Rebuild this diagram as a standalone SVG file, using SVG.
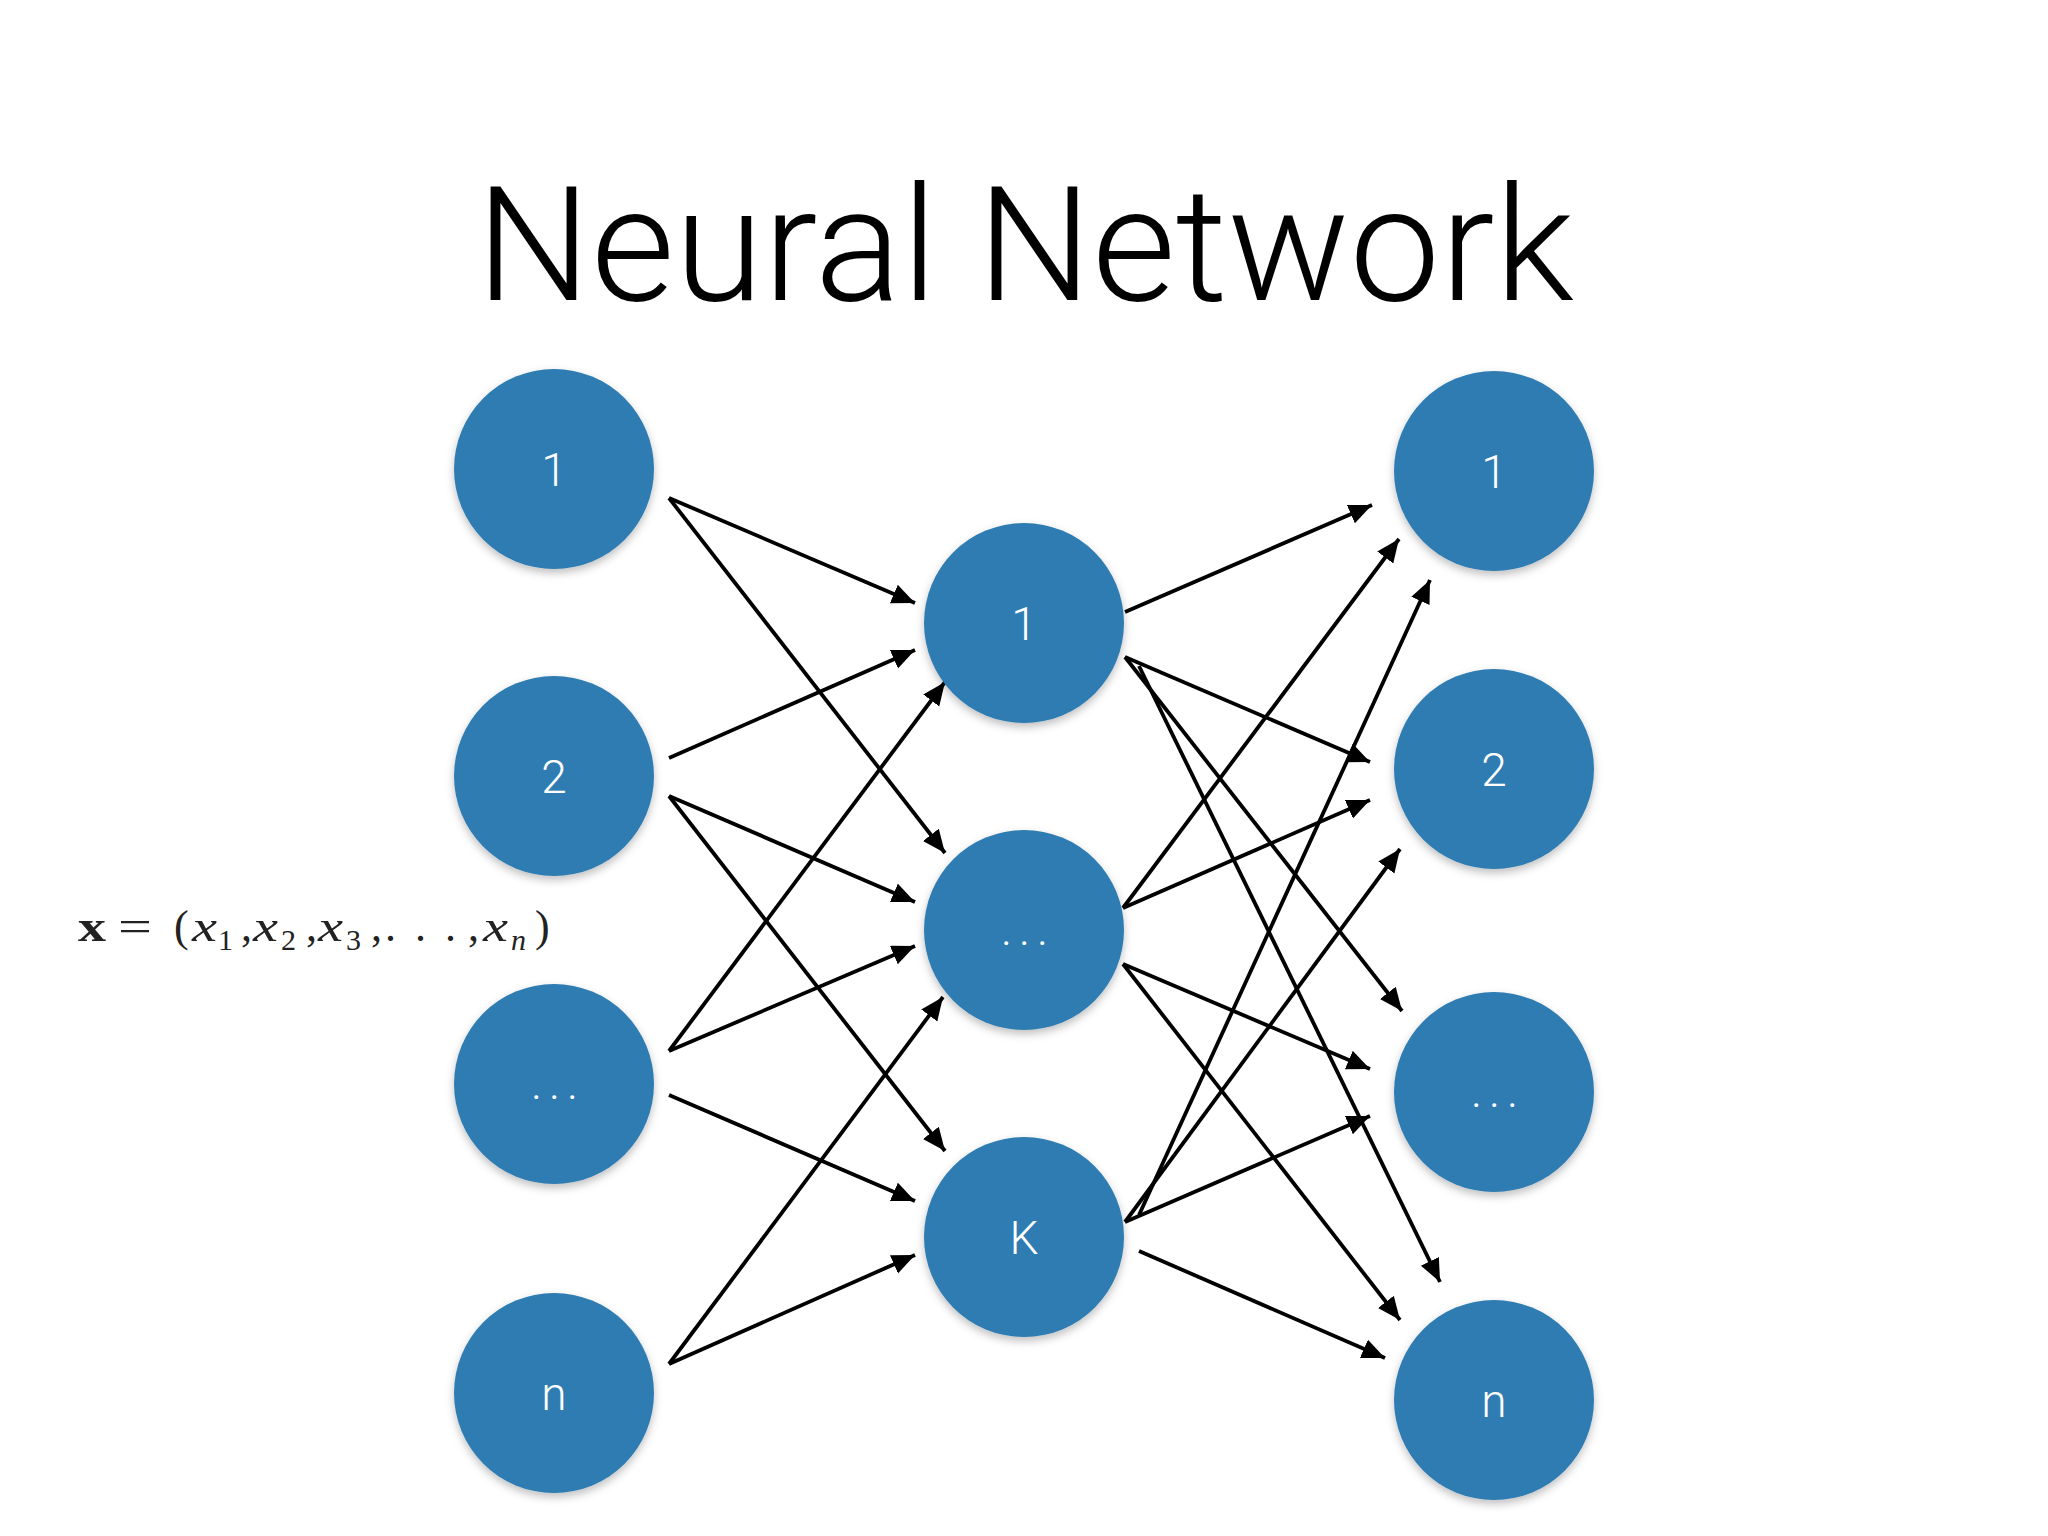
<svg xmlns="http://www.w3.org/2000/svg" width="2048" height="1536" viewBox="0 0 2048 1536">
<style>
.node circle{fill:#2f7cb1;filter:url(#sh)}
.node text{fill:#ffffff;font-family:Roboto,"Liberation Sans",Arial,sans-serif;font-size:46px;font-weight:300;text-anchor:middle}
.node text.dots{letter-spacing:7px}
.edges line{stroke:#000;stroke-width:3.8;marker-end:url(#ah)}
.fm{font-family:"Liberation Serif","Times New Roman",serif;font-size:44px;fill:#222}
.fi{font-style:italic}
.fs{font-size:30px}
</style>
<defs>
<filter id="sh" x="-20%" y="-20%" width="140%" height="150%">
<feDropShadow dx="0" dy="4" stdDeviation="4" flood-color="#000" flood-opacity="0.25"/>
</filter>
<marker id="ah" markerUnits="userSpaceOnUse" markerWidth="26" markerHeight="22" refX="23" refY="10" orient="auto">
<path d="M0,0 L23,10 L0,20 z" fill="#000"/>
</marker>
</defs>
<rect width="2048" height="1536" fill="#ffffff"/>
<text x="476" y="300" font-family="Roboto,'Liberation Sans',Arial,sans-serif" font-size="160" font-weight="300" textLength="1098" lengthAdjust="spacingAndGlyphs" fill="#000">Neural Network</text>
<g id="formula">
<text class="fm" x="78" y="941" font-weight="bold" textLength="28" lengthAdjust="spacingAndGlyphs">x</text>
<text class="fm" x="118" y="941" textLength="34" lengthAdjust="spacingAndGlyphs">=</text>
<text class="fm" x="174" y="941">(</text>
<text class="fm fi" x="192" y="941" textLength="25" lengthAdjust="spacingAndGlyphs">x</text><text class="fm fs" x="218" y="950">1</text><text class="fm" x="241" y="941">,</text>
<text class="fm fi" x="253" y="941" textLength="25" lengthAdjust="spacingAndGlyphs">x</text><text class="fm fs" x="281" y="950">2</text><text class="fm" x="306" y="941">,</text>
<text class="fm fi" x="318" y="941" textLength="25" lengthAdjust="spacingAndGlyphs">x</text><text class="fm fs" x="346" y="950">3</text><text class="fm" x="371" y="941">,</text>
<text class="fm" x="385" y="941">.</text><text class="fm" x="415" y="941">.</text><text class="fm" x="445" y="941">.</text><text class="fm" x="468" y="941">,</text>
<text class="fm fi" x="483" y="941" textLength="25" lengthAdjust="spacingAndGlyphs">x</text><text class="fm fs fi" x="511" y="950">n</text><text class="fm" x="535" y="941">)</text>
</g>
<g class="edges" id="connectors">
<line x1="669" y1="498" x2="915" y2="603"/>
<line x1="669" y1="498" x2="945" y2="853"/>
<line x1="669" y1="758" x2="915" y2="650"/>
<line x1="669" y1="796" x2="915" y2="902"/>
<line x1="669" y1="796" x2="945" y2="1151"/>
<line x1="669" y1="1051" x2="945" y2="682"/>
<line x1="669" y1="1051" x2="915" y2="946"/>
<line x1="669" y1="1095" x2="915" y2="1201"/>
<line x1="669" y1="1364" x2="943" y2="997"/>
<line x1="669" y1="1364" x2="915" y2="1255"/>
<line x1="1125" y1="612" x2="1372" y2="505"/>
<line x1="1125" y1="657" x2="1370" y2="762"/>
<line x1="1125" y1="657" x2="1402" y2="1011"/>
<line x1="1139" y1="666" x2="1440" y2="1282"/>
<line x1="1123" y1="908" x2="1399" y2="539"/>
<line x1="1123" y1="908" x2="1370" y2="800"/>
<line x1="1123" y1="964" x2="1370" y2="1069"/>
<line x1="1123" y1="964" x2="1400" y2="1320"/>
<line x1="1139" y1="1215" x2="1430" y2="580"/>
<line x1="1125" y1="1222" x2="1400" y2="849"/>
<line x1="1125" y1="1222" x2="1370" y2="1116"/>
<line x1="1139" y1="1251" x2="1385" y2="1358"/>
</g>
<g id="in1" class="node"><circle cx="554" cy="469" r="100"/><text x="554" y="486">1</text></g>
<g id="in2" class="node"><circle cx="554" cy="776" r="100"/><text x="554" y="793">2</text></g>
<g id="in3" class="node"><circle cx="554" cy="1084" r="100"/><text class="dots" x="558" y="1099">...</text></g>
<g id="inn" class="node"><circle cx="554" cy="1393" r="100"/><text x="554" y="1410">n</text></g>
<g id="h1" class="node"><circle cx="1024" cy="623" r="100"/><text x="1024" y="640">1</text></g>
<g id="h2" class="node"><circle cx="1024" cy="930" r="100"/><text class="dots" x="1028" y="945">...</text></g>
<g id="hk" class="node"><circle cx="1024" cy="1237" r="100"/><text x="1024" y="1254">K</text></g>
<g id="out1" class="node"><circle cx="1494" cy="471" r="100"/><text x="1494" y="488">1</text></g>
<g id="out2" class="node"><circle cx="1494" cy="769" r="100"/><text x="1494" y="786">2</text></g>
<g id="out3" class="node"><circle cx="1494" cy="1092" r="100"/><text class="dots" x="1498" y="1107">...</text></g>
<g id="outn" class="node"><circle cx="1494" cy="1400" r="100"/><text x="1494" y="1417">n</text></g>
</svg>
